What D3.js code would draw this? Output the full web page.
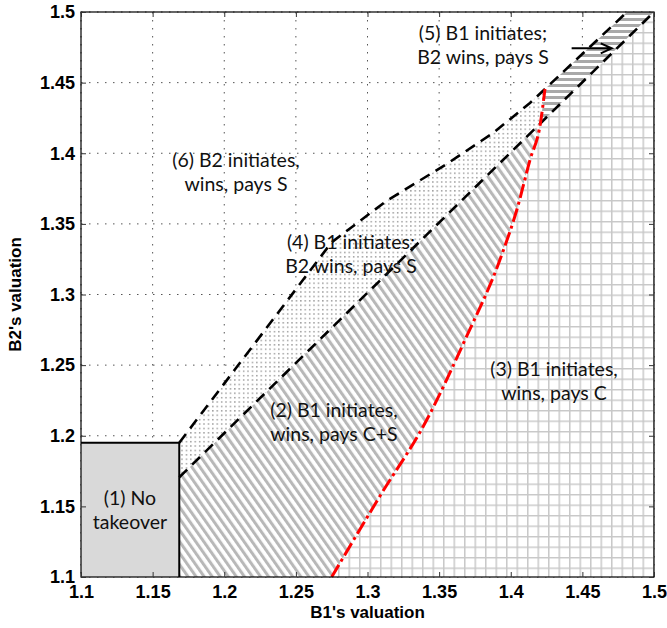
<!DOCTYPE html>
<html><head><meta charset="utf-8">
<script src="https://cdn.jsdelivr.net/npm/d3@7"></script>
<style>
html,body{margin:0;padding:0;background:#fff;}
svg{display:block;}
</style></head>
<body>
<svg id="chart" width="667" height="628"></svg>
<script>
// ---------- data ----------
const xTicks = [1.1, 1.15, 1.2, 1.25, 1.3, 1.35, 1.4, 1.45, 1.5];
const xTickLabels = ["1.1", "1.15", "1.2", "1.25", "1.3", "1.35", "1.4", "1.45", "1.5"];
const yTicks = [1.1, 1.15, 1.2, 1.25, 1.3, 1.35, 1.4, 1.45, 1.5];
const yTickLabels = ["1.1", "1.15", "1.2", "1.25", "1.3", "1.35", "1.4", "1.45", "1.5"];
const domainX = [1.1, 1.5];
const domainY = [1.1, 1.5];

// (1) no-takeover box corner [B1, B2]
const noTakeoverCorner = [1.1686, 1.1951];
// lower dashed boundary
const lowerBoundary = [[1.1686, 1.1706], [1.5, 1.5]];
// upper dashed boundary
const upperBoundary = [[1.1686, 1.1951], [1.275, 1.337], [1.3136, 1.3665], [1.3555, 1.3925],
                       [1.3876, 1.4143], [1.4134, 1.4356], [1.4239, 1.4455]];
// upper edge of band (5)
const bandEdge = [[1.4239, 1.4455], [1.4812, 1.5]];
// red dash-dot boundary
const redBoundary = [[1.275, 1.1], [1.3087, 1.1573], [1.3413, 1.2111], [1.3674, 1.2664],
                     [1.3937, 1.328], [1.4042, 1.3598], [1.4134, 1.3952], [1.4207, 1.4212],
                     [1.4239, 1.4455]];
const redSplitIndex = 7; // point where red crosses the lower dashed boundary

// annotation arrow
const arrowFrom = [1.4425, 1.4743];
const arrowTo = [1.4705, 1.4743];

// region labels: anchor = [B1, B2] of first line's centre baseline
const regionLabels = [
  {lines: ["(1) No", "takeover"], at: [1.1342, 1.1510]},
  {lines: ["(2) B1 initiates,", "wins, pays C+S"], at: [1.2766, 1.2133]},
  {lines: ["(3) B1 initiates,", "wins, pays C"], at: [1.4302, 1.2423]},
  {lines: ["(4) B1 initiates;", "B2 wins, pays S"], at: [1.2885, 1.3322]},
  {lines: ["(5) B1 initiates;", "B2 wins, pays S"], at: [1.3806, 1.4802]},
  {lines: ["(6) B2 initiates,", "wins, pays S"], at: [1.2082, 1.3903]}
];
const xTitle = "B1's valuation";
const yTitle = "B2's valuation";

// ---------- layout ----------
const W = 667, H = 628;
const m = {left: 81, right: 13, top: 12, bottom: 51};
const x = d3.scaleLinear().domain(domainX).range([m.left, W - m.right]);
const y = d3.scaleLinear().domain(domainY).range([H - m.bottom, m.top]);

const svg = d3.select("#chart");
const defs = svg.append("defs");

// patterns
const pHatch = defs.append("pattern").attr("id", "hatch").attr("patternUnits", "userSpaceOnUse")
  .attr("width", 6.6).attr("height", 10).attr("patternTransform", "rotate(-35)");
pHatch.append("rect").attr("width", 6.6).attr("height", 10).attr("fill", "#fff");
pHatch.append("rect").attr("x", 0).attr("width", 3).attr("height", 10).attr("fill", "#b8b8b8");

const gs = 10.5;
const pGrid = defs.append("pattern").attr("id", "gridp").attr("patternUnits", "userSpaceOnUse")
  .attr("width", gs).attr("height", gs).attr("x", x(1.5) - 1).attr("y", y(1.1) + 1);
pGrid.append("rect").attr("width", gs).attr("height", gs).attr("fill", "#fff");
pGrid.append("path").attr("d", `M0,0.75H${gs}M0.75,0V${gs}`).attr("stroke", "#c8c8c8").attr("stroke-width", 1.5).attr("fill", "none");

const pBand = defs.append("pattern").attr("id", "band").attr("patternUnits", "userSpaceOnUse")
  .attr("width", 10).attr("height", 6);
pBand.append("rect").attr("width", 10).attr("height", 6).attr("fill", "#fff");
pBand.append("rect").attr("y", 0).attr("width", 10).attr("height", 3).attr("fill", "#a9a9a9");

const pDots = defs.append("pattern").attr("id", "dots").attr("patternUnits", "userSpaceOnUse")
  .attr("width", 4.4).attr("height", 4.4);
pDots.append("rect").attr("width", 4.4).attr("height", 4.4).attr("fill", "#fff");
pDots.append("rect").attr("x", 1).attr("y", 1).attr("width", 1.3).attr("height", 1.3).attr("fill", "#808080");

svg.append("rect").attr("width", W).attr("height", H).attr("fill", "#fff");

// dotted grid
const grid = svg.append("g");
grid.selectAll("line.gx").data(xTicks).join("line")
  .attr("x1", d => x(d)).attr("x2", d => x(d)).attr("y1", y(1.5)).attr("y2", y(1.1))
  .attr("stroke", "#555").attr("stroke-width", 1).attr("stroke-dasharray", "1.5,6.5");
grid.selectAll("line.gy").data(yTicks).join("line")
  .attr("y1", d => y(d)).attr("y2", d => y(d)).attr("x1", x(1.1)).attr("x2", x(1.5))
  .attr("stroke", "#555").attr("stroke-width", 1).attr("stroke-dasharray", "1.5,6.5");

// regions
const P = p => [x(p[0]), y(p[1])];
function poly(points) {
  return "M" + points.map(p => P(p).join(",")).join("L") + "Z";
}
const cross = redBoundary[redSplitIndex];
const redLow = redBoundary.slice(0, redSplitIndex + 1);
const redHigh = redBoundary.slice(redSplitIndex);
const [bx, by] = noTakeoverCorner;

// (2) hatch
svg.append("path").attr("d", poly([[bx, 1.1], lowerBoundary[0], cross, ...redLow.slice().reverse()]))
  .attr("fill", "url(#hatch)");
// (3) grid
svg.append("path").attr("d", poly([...redLow, lowerBoundary[1], [1.5, 1.1]]))
  .attr("fill", "url(#gridp)");
// (4) dots
svg.append("path").attr("d", poly([...upperBoundary, ...redHigh.slice().reverse(), lowerBoundary[0]]))
  .attr("fill", "url(#dots)");
// (5) band
svg.append("path").attr("d", poly([...redHigh, ...bandEdge.slice(1), lowerBoundary[1]]))
  .attr("fill", "url(#band)");
// (1) no takeover
svg.append("rect").attr("x", x(1.1)).attr("y", y(by)).attr("width", x(bx) - x(1.1)).attr("height", y(1.1) - y(by))
  .attr("fill", "#d9d9d9");
svg.append("path").attr("d", `M${x(1.1)},${y(by)}H${x(bx)}V${y(1.1)}`)
  .attr("fill", "none").attr("stroke", "#000").attr("stroke-width", 2);

// boundaries
const line = d3.line().x(d => x(d[0])).y(d => y(d[1]));
svg.append("path").attr("d", line(lowerBoundary)).attr("fill", "none")
  .attr("stroke", "#000").attr("stroke-width", 2.6).attr("stroke-dasharray", "11,7");
svg.append("path").attr("d", line([...upperBoundary, ...bandEdge.slice(1)])).attr("fill", "none")
  .attr("stroke", "#000").attr("stroke-width", 2.6).attr("stroke-dasharray", "11,7");
svg.append("path").attr("d", line.curve(d3.curveMonotoneX)(redBoundary)).attr("fill", "none")
  .attr("stroke", "#ff0000").attr("stroke-width", 3).attr("stroke-dasharray", "14,4,3,4");
line.curve(d3.curveLinear);

// arrow
const a0 = P(arrowFrom), a1 = P(arrowTo);
svg.append("path").attr("d", `M${a0[0]},${a0[1]}L${a1[0]},${a1[1]}M${a1[0]-11},${a1[1]-5}L${a1[0]},${a1[1]}L${a1[0]-11},${a1[1]+5}`)
  .attr("fill", "none").attr("stroke", "#000").attr("stroke-width", 2);

// frame
svg.append("rect").attr("x", x(1.1)).attr("y", y(1.5)).attr("width", x(1.5) - x(1.1)).attr("height", y(1.1) - y(1.5))
  .attr("fill", "none").attr("stroke", "#000").attr("stroke-width", 1.2);

// axes
const tickFont = "bold 18px 'Liberation Sans', Arial, sans-serif";
const gx = svg.append("g").attr("transform", `translate(0,${y(1.1)})`)
  .call(d3.axisBottom(x).tickValues(xTicks).tickFormat((d, i) => xTickLabels[i]).tickSizeInner(-5).tickSizeOuter(0).tickPadding(8));
const gy = svg.append("g").attr("transform", `translate(${x(1.1)},0)`)
  .call(d3.axisLeft(y).tickValues(yTicks).tickFormat((d, i) => yTickLabels[i]).tickSizeInner(-5).tickSizeOuter(0).tickPadding(6));
const gt = svg.append("g").attr("transform", `translate(0,${y(1.5)})`)
  .call(d3.axisTop(x).tickValues(xTicks).tickFormat("").tickSizeInner(-5).tickSizeOuter(0));
const gr = svg.append("g").attr("transform", `translate(${x(1.5)},0)`)
  .call(d3.axisRight(y).tickValues(yTicks).tickFormat("").tickSizeInner(-5).tickSizeOuter(0));
[gx, gy, gt, gr].forEach(g => {
  g.select(".domain").remove();
  g.selectAll(".tick line").attr("stroke", "#333");
  g.selectAll(".tick text").style("font", tickFont).attr("fill", "#000");
});

// axis titles
svg.append("text").attr("x", (x(1.1) + x(1.5)) / 2).attr("y", 618).attr("text-anchor", "middle")
  .style("font", "bold 17px 'Liberation Sans', Arial, sans-serif").text(xTitle);
svg.append("text").attr("transform", `translate(21,${(y(1.1) + y(1.5)) / 2}) rotate(-90)`).attr("text-anchor", "middle")
  .style("font", "bold 17px 'Liberation Sans', Arial, sans-serif").text(yTitle);

// region labels
const lab = svg.append("g").style("font", "19.5px Lato, 'Open Sans', sans-serif").attr("fill", "#111");
regionLabels.forEach(r => {
  const t = lab.append("text").attr("text-anchor", "middle");
  r.lines.forEach((s, i) => {
    t.append("tspan").attr("x", x(r.at[0])).attr("y", y(r.at[1]) + i * 24).text(s);
  });
});
</script>
</body></html>
